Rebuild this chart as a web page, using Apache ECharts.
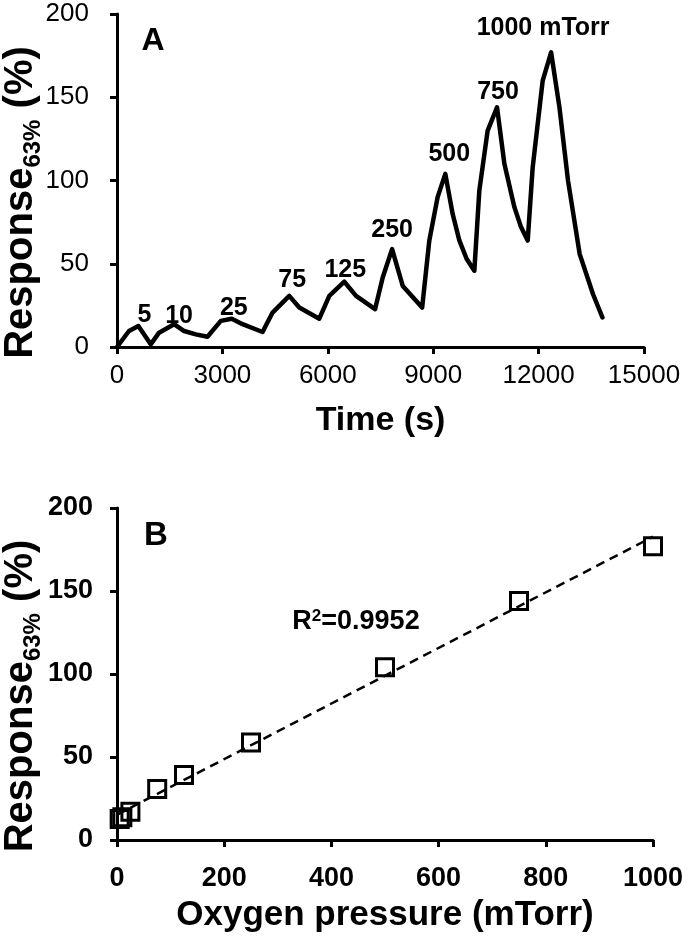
<!DOCTYPE html>
<html>
<head>
<meta charset="utf-8">
<script src="https://cdn.jsdelivr.net/npm/echarts@6/dist/echarts.min.js"></script>
<style>
  html, body { margin: 0; padding: 0; background: #fff; }
  #chart { width: 688px; height: 940px; }
</style>
</head>
<body>
<div id="chart"></div>
<script>
// panel A: response vs time
var timeSec = [0, 342, 608, 960, 1197, 1625, 1910, 2243, 2575, 2955, 3268, 3573, 4143,
  4428, 4903, 5188, 5758, 6043, 6470, 6804, 7345, 7563, 7830, 8133, 8686, 8889, 9126,
  9345, 9553, 9744, 9950, 10171, 10313, 10550, 10817, 11026, 11311, 11500, 11690, 11832,
  12117, 12356, 12593, 12837, 13170, 13550, 13817];
var responseA = [0, 9.6, 12.6, 1.6, 8.6, 13.7, 9.6, 7.6, 6.2, 15.7, 17, 13.7, 9,
  20.7, 30.7, 23.7, 17, 30.7, 39.2, 30.7, 22.7, 41.7, 58.8, 36.7, 23.7, 63.9, 90,
  104, 80, 64, 53, 45.8, 94, 130, 144, 110, 84, 72, 63.9, 108,
  160, 177, 144, 100, 55.8, 31.7, 17.7];

// peaks and their pressure labels
var peakTimes = [608, 1625, 3268, 4903, 6470, 7830, 9345, 10817, 12356];
var peakLabels = ['5', '10', '25', '75', '125', '250', '500', '750', '1000 mTorr'];

// panel B: peak response vs oxygen pressure
var pressure = [5, 10, 25, 75, 125, 250, 500, 750, 1000];
var responseB = [12.6, 13.7, 17, 30.7, 39.2, 58.8, 104, 144, 177];
var trendX = [0, 1000];
var trendY = [15.2, 182.7];

// label nudges (px) so the peak labels sit like the original
var labelNudge = [[6, 2], [5, 4], [2, 2], [3, -3], [1, 1], [0, -6], [4, -7], [1, -3], [-8, -12]];

var FONT = "'Liberation Sans', Arial, sans-serif";

function peakValue(t) {
  return responseA[timeSec.indexOf(t)];
}

var seriesA = timeSec.map(function (t, i) { return [t, responseA[i]]; });
var peakData = peakTimes.map(function (t, i) {
  return { value: [t, peakValue(t)], name: peakLabels[i], label: { offset: labelNudge[i] } };
});
var seriesB = pressure.map(function (p, i) { return [p, responseB[i]]; });
var trendData = trendX.map(function (x, i) { return [x, trendY[i]]; });

function plain(v) { return String(v); }

function yName() {
  return {
    name: '{b|Response}{s|63%}{b| (%)}',
    nameLocation: 'middle',
    nameRotate: 90,
    nameGap: 76,
    nameMoveOverlap: false,
    nameTextStyle: {
      padding: [0, 44, 0, 0],
      rich: {
        b: { fontFamily: FONT, fontWeight: 'bold', fontSize: 40, color: '#000', lineHeight: 44, verticalAlign: 'bottom' },
        s: { fontFamily: FONT, fontWeight: 'bold', fontSize: 24, color: '#000', lineHeight: 44, verticalAlign: 'bottom', padding: [0, 0, -4, 0] }
      }
    }
  };
}

var axisLineStyle = { show: true, lineStyle: { color: '#000', width: 3 } };
var axisTickStyle = { show: true, inside: false, length: 7, lineStyle: { color: '#000', width: 3 } };

var chart = echarts.init(document.getElementById('chart'));

chart.setOption({
  animation: false,
  backgroundColor: '#fff',
  grid: [
    { left: 117, top: 14, width: 527, height: 333, containLabel: false, outerBoundsMode: 'none' },
    { left: 117, top: 508, width: 536, height: 332, containLabel: false, outerBoundsMode: 'none' }
  ],
  xAxis: [
    {
      gridIndex: 0, type: 'value', min: 0, max: 15000, interval: 3000,
      name: 'Time (s)', nameLocation: 'middle', nameGap: 57, nameMoveOverlap: false,
      nameTextStyle: { fontFamily: FONT, fontWeight: 'bold', fontSize: 34, color: '#000' },
      axisLine: axisLineStyle, axisTick: axisTickStyle,
      axisLabel: { fontFamily: FONT, fontSize: 26, color: '#000', margin: 16, formatter: plain },
      splitLine: { show: false }
    },
    {
      gridIndex: 1, type: 'value', min: 0, max: 1000, interval: 200,
      name: 'Oxygen pressure (mTorr)', nameLocation: 'middle', nameGap: 58, nameMoveOverlap: false,
      nameTextStyle: { fontFamily: FONT, fontWeight: 'bold', fontSize: 35, color: '#000' },
      axisLine: axisLineStyle, axisTick: axisTickStyle,
      axisLabel: { fontFamily: FONT, fontWeight: 'bold', fontSize: 27, color: '#000', margin: 25, formatter: plain },
      splitLine: { show: false }
    }
  ],
  yAxis: [
    Object.assign({
      gridIndex: 0, type: 'value', min: 0, max: 200, interval: 50,
      axisLine: axisLineStyle, axisTick: axisTickStyle,
      axisLabel: { fontFamily: FONT, fontSize: 26, color: '#000', margin: 28, formatter: plain },
      splitLine: { show: false }
    }, yName()),
    Object.assign({
      gridIndex: 1, type: 'value', min: 0, max: 200, interval: 50,
      axisLine: axisLineStyle, axisTick: axisTickStyle,
      axisLabel: { fontFamily: FONT, fontWeight: 'bold', fontSize: 27, color: '#000', margin: 24, formatter: plain },
      splitLine: { show: false }
    }, yName())
  ],
  series: [
    {
      type: 'line', xAxisIndex: 0, yAxisIndex: 0,
      data: seriesA, showSymbol: false, smooth: false,
      lineStyle: { color: '#000', width: 4.5, join: 'round', cap: 'round' }
    },
    {
      type: 'scatter', xAxisIndex: 0, yAxisIndex: 0,
      data: peakData, symbolSize: 0, silent: true,
      itemStyle: { opacity: 1 },
      label: {
        show: true, position: 'top', distance: 0,
        formatter: '{b}',
        fontFamily: FONT, fontWeight: 'bold', fontSize: 25, color: '#000'
      }
    },
    {
      type: 'line', xAxisIndex: 1, yAxisIndex: 1,
      data: trendData, showSymbol: false,
      lineStyle: { color: '#000', width: 2.5, type: [9, 6] }
    },
    {
      type: 'scatter', xAxisIndex: 1, yAxisIndex: 1,
      data: seriesB, symbol: 'rect', symbolSize: 17,
      itemStyle: { color: 'rgba(0,0,0,0)', borderColor: '#000', borderWidth: 3, opacity: 1 }
    }
  ],
  graphic: [
    {
      type: 'text', x: 153, y: 41,
      style: { text: 'A', fontFamily: FONT, fontWeight: 'bold', fontSize: 32, fill: '#000', textAlign: 'center', textVerticalAlign: 'middle' }
    },
    {
      type: 'text', x: 156, y: 536,
      style: { text: 'B', fontFamily: FONT, fontWeight: 'bold', fontSize: 33, fill: '#000', textAlign: 'center', textVerticalAlign: 'middle' }
    },
    {
      type: 'text', x: 356, y: 623,
      style: {
        text: '{b|R}{p|2}{b|=0.9952}',
        textAlign: 'center', textVerticalAlign: 'middle',
        rich: {
          b: { fontFamily: FONT, fontWeight: 'bold', fontSize: 27, fill: '#000', lineHeight: 30, verticalAlign: 'top' },
          p: { fontFamily: FONT, fontWeight: 'bold', fontSize: 17, fill: '#000', lineHeight: 30, verticalAlign: 'top' }
        }
      }
    }
  ]
});
</script>
</body>
</html>
